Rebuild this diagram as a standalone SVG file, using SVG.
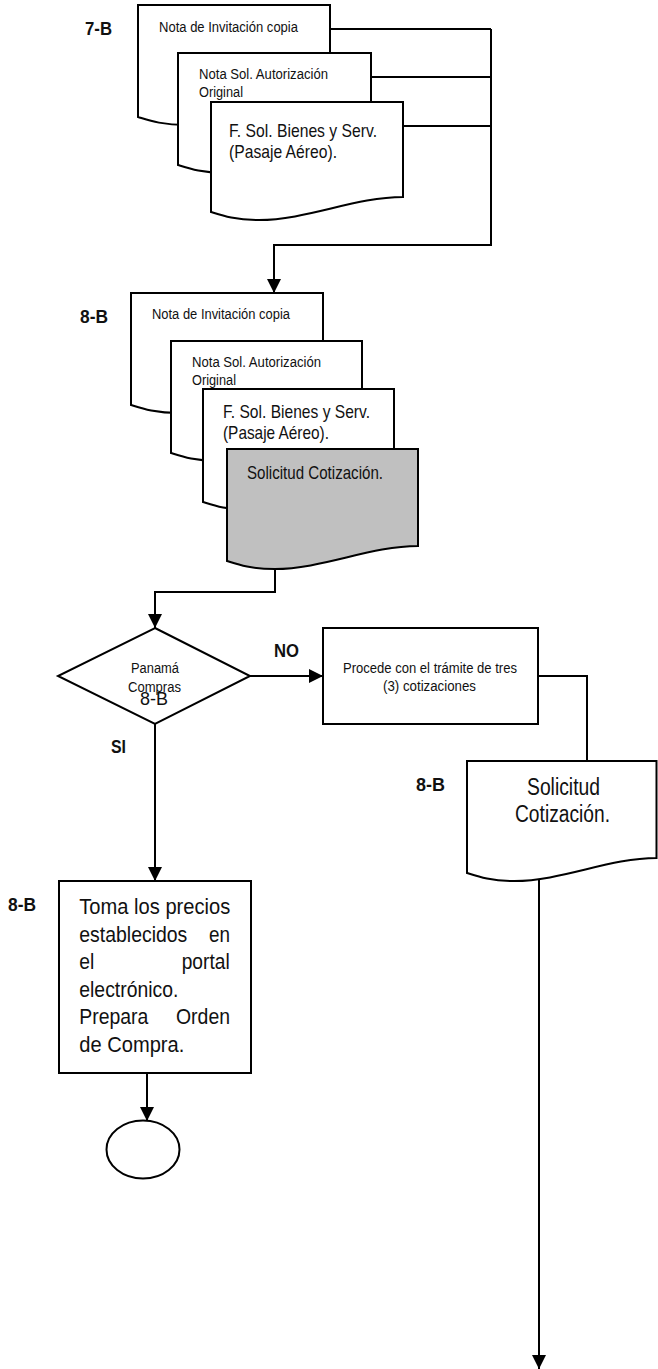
<svg xmlns="http://www.w3.org/2000/svg" width="658" height="1369" viewBox="0 0 658 1369">
  <style>
    .shape { fill: #ffffff; stroke: #000000; stroke-width: 2; stroke-linejoin: miter; }
    .shaded { fill: #c0c0c0; }
    .line { fill: none; stroke: #000000; stroke-width: 2; }
    .t { font-family: "Liberation Sans", Arial, sans-serif; fill: #111111; }
    .s15 { font-size: 15.5px; }
    .s19 { font-size: 19px; }
    .s22 { font-size: 22.5px; }
    .s23 { font-size: 23px; }
    .lbl { font-family: "Liberation Sans", Arial, sans-serif; font-size: 18px; font-weight: bold; fill: #111111; }
  </style>
  <defs>
    <marker id="arrow" markerWidth="14" markerHeight="14" refX="14" refY="7" orient="auto" markerUnits="userSpaceOnUse">
      <path d="M0,0 L14,7 L0,14 Z" fill="#000000"/>
    </marker>
  </defs>

  <!-- flow lines -->
  <g id="connectors">
    <path class="line" d="M330,29 H491"/>
    <path class="line" d="M371,77 H491"/>
    <path class="line" d="M403,126 H491"/>
    <path class="line" d="M491,29 V245 H274 V293" marker-end="url(#arrow)"/>
    <path class="line" d="M275,566 V592 H155 V628" marker-end="url(#arrow)"/>
    <path class="line" d="M250,676 H323" marker-end="url(#arrow)"/>
    <path class="line" d="M155,724 V881" marker-end="url(#arrow)"/>
    <path class="line" d="M538,676 H587 V761"/>
    <path class="line" d="M147,1073 V1121" marker-end="url(#arrow)"/>
    <path class="line" d="M539,876 V1369" marker-end="url(#arrow)"/>
  </g>

  <!-- step 7-B: documents sent -->
  <g id="step-7b">
    <text class="lbl" x="85" y="35" textLength="27" lengthAdjust="spacingAndGlyphs">7-B</text>
  </g>
  <g id="doc-7b-invitacion">
    <path class="shape" d="M138,5 H330 V102 C282,102 234,125 186,125 C161,125 148,120 138,117 Z"/>
    <text class="t s15" x="159" y="31.5" textLength="139" lengthAdjust="spacingAndGlyphs">Nota de Invitación copia</text>
  </g>
  <g id="doc-7b-autorizacion">
    <path class="shape" d="M178,53 H371 V150 C322.75,150 274.5,173 226.25,173 C201.2,173 187.65,168 178,165 Z"/>
    <text class="t s15" x="199" y="79" textLength="129" lengthAdjust="spacingAndGlyphs">Nota Sol. Autorización</text>
    <text class="t s15" x="199" y="96.5" textLength="44" lengthAdjust="spacingAndGlyphs">Original</text>
  </g>
  <g id="doc-7b-bienes">
    <path class="shape" d="M211,102 H403 V197 C355,197 307,220 259,220 C234,220 220.6,215 211,212 Z"/>
    <text class="t s19" x="229" y="136.5" textLength="148" lengthAdjust="spacingAndGlyphs">F. Sol. Bienes y Serv.</text>
    <text class="t s19" x="229" y="157.5" textLength="108" lengthAdjust="spacingAndGlyphs">(Pasaje Aéreo).</text>
  </g>

  <!-- step 8-B: documents received, quotation request added -->
  <g id="step-8b">
    <text class="lbl" x="80" y="323" textLength="28" lengthAdjust="spacingAndGlyphs">8-B</text>
  </g>
  <g id="doc-8b-invitacion">
    <path class="shape" d="M131,293 H323 V390 C275,390 227,413 179,413 C154,413 140.6,408 131,405 Z"/>
    <text class="t s15" x="152" y="319" textLength="138" lengthAdjust="spacingAndGlyphs">Nota de Invitación copia</text>
  </g>
  <g id="doc-8b-autorizacion">
    <path class="shape" d="M171,341 H362 V438 C314.25,438 266.5,461 218.75,461 C193.9,461 180.55,456 171,453 Z"/>
    <text class="t s15" x="192" y="367" textLength="129" lengthAdjust="spacingAndGlyphs">Nota Sol. Autorización</text>
    <text class="t s15" x="192" y="385" textLength="44" lengthAdjust="spacingAndGlyphs">Original</text>
  </g>
  <g id="doc-8b-bienes">
    <path class="shape" d="M203,389 H394 V487 C346.25,487 298.5,510 250.75,510 C225.9,510 212.55,505 203,502 Z"/>
    <text class="t s19" x="223" y="418" textLength="147" lengthAdjust="spacingAndGlyphs">F. Sol. Bienes y Serv.</text>
    <text class="t s19" x="223" y="439" textLength="106" lengthAdjust="spacingAndGlyphs">(Pasaje Aéreo).</text>
  </g>
  <g id="doc-8b-cotizacion">
    <path class="shape shaded" d="M227,449 H418 V546 C370.25,546 322.5,569 274.75,569 C249.9,569 236.55,564 227,561 Z"/>
    <text class="t s19" x="247" y="479" textLength="136" lengthAdjust="spacingAndGlyphs">Solicitud Cotización.</text>
  </g>

  <!-- decision -->
  <g id="decision-panama-compras">
    <path class="shape" d="M155,628 L250,676 L155,724 L58,676 Z"/>
    <text class="t s15" x="131" y="673" textLength="48" lengthAdjust="spacingAndGlyphs">Panamá</text>
    <text class="t s15" x="128" y="691.5" textLength="53" lengthAdjust="spacingAndGlyphs">Compras</text>
    <text class="t" style="font-size:18px" x="140" y="705" textLength="28" lengthAdjust="spacingAndGlyphs">8-B</text>
  </g>
  <g id="label-no">
    <text class="lbl" x="274" y="656.5" textLength="25" lengthAdjust="spacingAndGlyphs">NO</text>
  </g>
  <g id="label-si">
    <text class="lbl" x="111" y="752.5" textLength="15" lengthAdjust="spacingAndGlyphs">SI</text>
  </g>

  <!-- NO branch -->
  <g id="process-tres-cotizaciones">
    <rect class="shape" x="323" y="628" width="215" height="96"/>
    <text class="t s15" x="343" y="672.5" textLength="174" lengthAdjust="spacingAndGlyphs">Procede con el trámite de tres</text>
    <text class="t s15" x="383" y="690.5" textLength="93" lengthAdjust="spacingAndGlyphs">(3) cotizaciones</text>
  </g>
  <g id="doc-solicitud-cotizacion">
    <text class="lbl" x="416" y="790.5" textLength="29" lengthAdjust="spacingAndGlyphs">8-B</text>
    <path class="shape" d="M467,761 H656.5 V858 C609.1,858 561.75,881 514.4,881 C489.7,881 476.5,876 467,873 Z"/>
    <text class="t s23" x="527" y="795" textLength="73" lengthAdjust="spacingAndGlyphs">Solicitud</text>
    <text class="t s23" x="515" y="821.5" textLength="95" lengthAdjust="spacingAndGlyphs">Cotización.</text>
  </g>

  <!-- SI branch -->
  <g id="process-orden-compra">
    <text class="lbl" x="8" y="910.5" textLength="28" lengthAdjust="spacingAndGlyphs">8-B</text>
    <rect class="shape" x="59" y="881" width="192" height="192"/>
    <text class="t s22" x="79.3" y="914" textLength="151" lengthAdjust="spacingAndGlyphs">Toma los precios</text>
    <text class="t s22" x="79.3" y="941.7" textLength="108" lengthAdjust="spacingAndGlyphs">establecidos</text>
    <text class="t s22" x="209" y="941.7" textLength="21" lengthAdjust="spacingAndGlyphs">en</text>
    <text class="t s22" x="79.3" y="969.3" textLength="15" lengthAdjust="spacingAndGlyphs">el</text>
    <text class="t s22" x="181.7" y="969.3" textLength="48" lengthAdjust="spacingAndGlyphs">portal</text>
    <text class="t s22" x="79.3" y="996.7" textLength="99" lengthAdjust="spacingAndGlyphs">electrónico.</text>
    <text class="t s22" x="79.3" y="1024.3" textLength="69" lengthAdjust="spacingAndGlyphs">Prepara</text>
    <text class="t s22" x="176" y="1024.3" textLength="54" lengthAdjust="spacingAndGlyphs">Orden</text>
    <text class="t s22" x="79.3" y="1052.3" textLength="105" lengthAdjust="spacingAndGlyphs">de Compra.</text>
  </g>
  <g id="connector-end">
    <ellipse class="shape" cx="143" cy="1149.5" rx="36.5" ry="29"/>
  </g>
</svg>
